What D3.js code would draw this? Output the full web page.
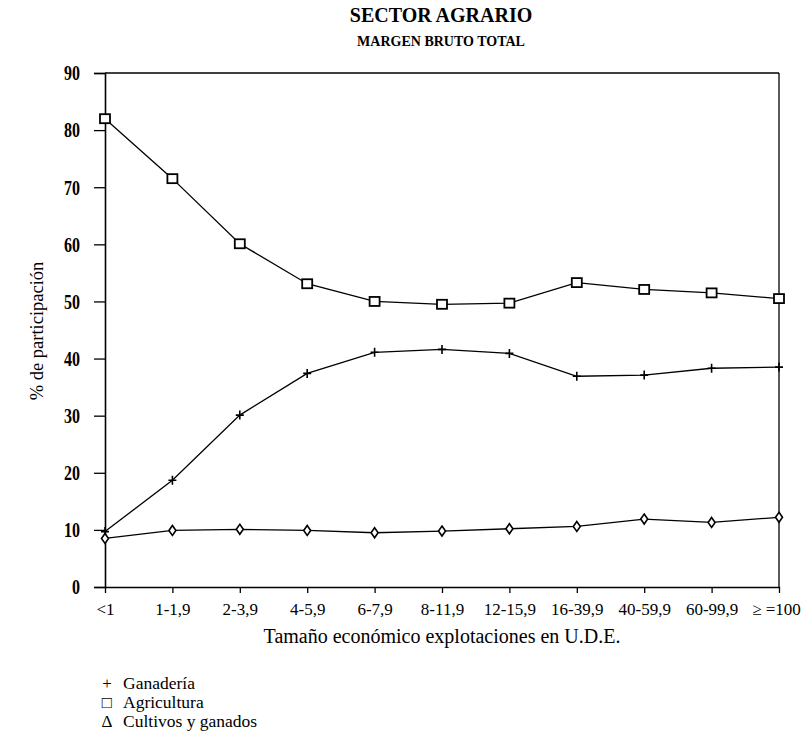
<!DOCTYPE html>
<html><head><meta charset="utf-8">
<script src="https://cdn.jsdelivr.net/npm/d3@7"></script>
<style>body{margin:0;background:#fff}svg{display:block}text{font-family:"Liberation Serif","Times New Roman",serif;fill:#000}</style>
</head><body><svg id="c" width="805" height="746"></svg>
<script>
const categories = ["<1","1-1,9","2-3,9","4-5,9","6-7,9","8-11,9","12-15,9","16-39,9","40-59,9","60-99,9","≥ =100"];
const ganaderia = [9.7,18.7,30.1,37.4,41.1,41.6,40.9,36.9,37.1,38.3,38.5];
const agricultura = [82.0,71.5,60.1,53.1,50.0,49.5,49.7,53.3,52.1,51.5,50.5];
const cultivos = [8.5,9.9,10.1,9.9,9.5,9.8,10.2,10.6,11.9,11.3,12.2];
const yTicks = [0,10,20,30,40,50,60,70,80,90];
const legendItems = [["+","Ganadería"],["□","Agricultura"],["Δ","Cultivos y ganados"]];

const svg = d3.select("#c");
const L=105,R=779,T=73,B=587;
const x = d3.scalePoint().domain(categories).range([L,R]);
const y = d3.scaleLinear().domain([0,90]).range([B,T]);

// title
svg.append("text").attr("x",441).attr("y",22).attr("text-anchor","middle").attr("font-weight","bold").attr("font-size",20).text("SECTOR AGRARIO");
svg.append("text").attr("x",441).attr("y",46).attr("text-anchor","middle").attr("font-weight","bold").attr("font-size",14).text("MARGEN BRUTO TOTAL");

// frame
svg.append("line").attr("x1",L).attr("x2",R).attr("y1",T).attr("y2",T).attr("stroke","#000").attr("stroke-width",1.3);
svg.append("line").attr("x1",R).attr("x2",R).attr("y1",T).attr("y2",B).attr("stroke","#000").attr("stroke-width",1.3);

// y axis
const ya = svg.append("g").attr("transform",`translate(${L},0)`).call(d3.axisLeft(y).tickValues(yTicks).tickSize(11).tickPadding(14).tickFormat(d3.format("d")));
ya.select(".domain").attr("stroke-width",1.6);
ya.selectAll(".tick line").attr("stroke-width",1.3);
ya.selectAll(".tick text").attr("font-size",20).attr("font-weight","bold").attr("font-family","'Liberation Serif',serif").attr("fill","#000")
  .attr("x",0).attr("dy","0.34em").attr("text-anchor","end").attr("transform","translate(-25,0) scale(0.8,1)");

// x axis
const xa = svg.append("g").attr("transform",`translate(0,${B})`).call(d3.axisBottom(x).tickSize(6).tickPadding(10).tickSizeOuter(0));
xa.select(".domain").attr("stroke-width",1.6);
xa.selectAll(".tick line").attr("stroke-width",1.3);
xa.selectAll("text").attr("font-size",17).attr("font-family","'Liberation Serif',serif").attr("fill","#000");
xa.selectAll(".tick text").filter(d=>d===categories[categories.length-1]).attr("dx",-3);

// axis titles
svg.append("text").attr("x",442).attr("y",643).attr("text-anchor","middle").attr("font-size",20).text("Tamaño económico explotaciones en U.D.E.");
svg.append("text").attr("transform","translate(43,331) rotate(-90)").attr("text-anchor","middle").attr("font-size",18.5).text("% de participación");

// lines
const line = d3.line().x((d,i)=>x(categories[i])).y(d=>y(d));
[ganaderia,agricultura,cultivos].forEach(s=>{
  svg.append("path").attr("d",line(s)).attr("fill","none").attr("stroke","#000").attr("stroke-width",1.3);
});

// markers
svg.append("g").selectAll("path").data(ganaderia).join("path")
  .attr("d",(d,i)=>{const cx=x(categories[i]),cy=y(d);return `M${cx-4},${cy}H${cx+4}M${cx},${cy-4.5}V${cy+4.5}`;})
  .attr("stroke","#000").attr("stroke-width",1.6).attr("fill","none");
svg.append("g").selectAll("rect").data(agricultura).join("rect")
  .attr("x",(d,i)=>x(categories[i])-5).attr("y",d=>y(d)-4.5).attr("width",10).attr("height",9)
  .attr("fill","#fff").attr("stroke","#000").attr("stroke-width",1.8);
svg.append("g").selectAll("path").data(cultivos).join("path")
  .attr("d",(d,i)=>{const cx=x(categories[i]),cy=y(d);return `M${cx},${cy-5}L${cx+3.5},${cy}L${cx},${cy+5}L${cx-3.5},${cy}Z`;})
  .attr("fill","#fff").attr("stroke","#000").attr("stroke-width",1.6);

// legend
const lg = svg.append("g");
legendItems.forEach((it,i)=>{
  const yy = 689 + i*19;
  lg.append("text").attr("x",107).attr("y",yy).attr("text-anchor","middle").attr("font-size",17).text(it[0]);
  lg.append("text").attr("x",123).attr("y",yy).attr("font-size",17.5).text(it[1]);
});
</script></body></html>
